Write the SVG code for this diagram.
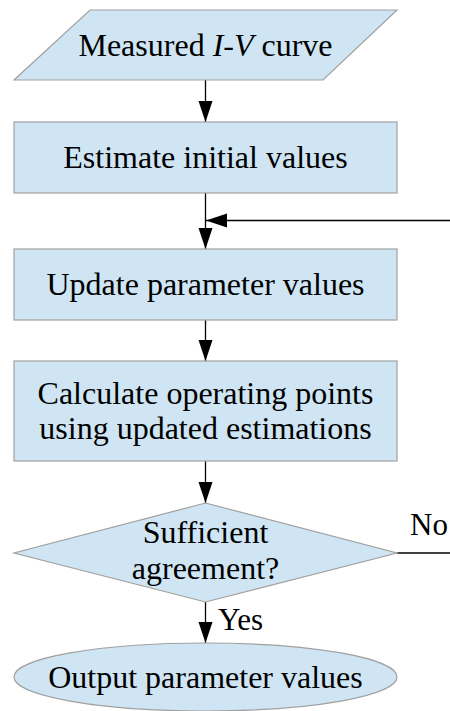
<svg xmlns="http://www.w3.org/2000/svg" width="450" height="711" viewBox="0 0 450 711">
  <style>
    .shape { fill: #cfe5f3; stroke: #a0a0a0; stroke-width: 1.2; }
    .label { font-family: "Liberation Serif", "Times New Roman", serif; font-size: 32px; fill: #000; text-anchor: middle; }
    .side { font-family: "Liberation Serif", "Times New Roman", serif; font-size: 31px; fill: #000; }
    .flow { fill: none; stroke: #000; stroke-width: 1.3; }
  </style>
  <defs>
    <marker id="arrow" markerUnits="userSpaceOnUse" markerWidth="21" markerHeight="15" refX="21" refY="7.5" orient="auto">
      <path d="M0,0.5 L21,7.5 L0,14.5 Z" fill="#000"/>
    </marker>
  </defs>

  <rect width="450" height="711" fill="#fff"/>

  <!-- connectors -->
  <g id="connectors">
    <line class="flow" x1="205.5" y1="80" x2="205.5" y2="122" marker-end="url(#arrow)"/>
    <line class="flow" x1="205.5" y1="193" x2="205.5" y2="249" marker-end="url(#arrow)"/>
    <line class="flow" x1="450" y1="220.5" x2="206" y2="220.5" marker-end="url(#arrow)"/>
    <line class="flow" x1="205.5" y1="320" x2="205.5" y2="361" marker-end="url(#arrow)"/>
    <line class="flow" x1="205.5" y1="461" x2="205.5" y2="503" marker-end="url(#arrow)"/>
    <line class="flow" x1="205.5" y1="602" x2="205.5" y2="643" marker-end="url(#arrow)"/>
    <line class="flow" x1="397" y1="553" x2="450" y2="553"/>
    <text class="side" x="410" y="535">No</text>
    <text class="side" x="218" y="630">Yes</text>
  </g>

  <!-- input -->
  <g id="input">
    <polygon class="shape" points="90,10 397,10 323,80 14,80"/>
    <text class="label" x="205.5" y="56">Measured <tspan font-style="italic">I-V</tspan> curve</text>
  </g>

  <g id="estimate">
    <rect class="shape" x="14" y="122" width="383" height="71"/>
    <text class="label" x="205.5" y="168">Estimate initial values</text>
  </g>

  <g id="update">
    <rect class="shape" x="14" y="249" width="383" height="71"/>
    <text class="label" x="205.5" y="295">Update parameter values</text>
  </g>

  <g id="calculate">
    <rect class="shape" x="14" y="361" width="383" height="100"/>
    <text class="label" x="205.5" y="404">Calculate operating points</text>
    <text class="label" x="205.5" y="439">using updated estimations</text>
  </g>

  <g id="decision">
    <polygon class="shape" points="205.5,503 397,553 205.5,602 14,553"/>
    <text class="label" x="205.5" y="543">Sufficient</text>
    <text class="label" x="205.5" y="579">agreement?</text>
  </g>

  <g id="output">
    <ellipse class="shape" cx="205.5" cy="677" rx="191.5" ry="34"/>
    <text class="label" x="205.5" y="688">Output parameter values</text>
  </g>
</svg>
